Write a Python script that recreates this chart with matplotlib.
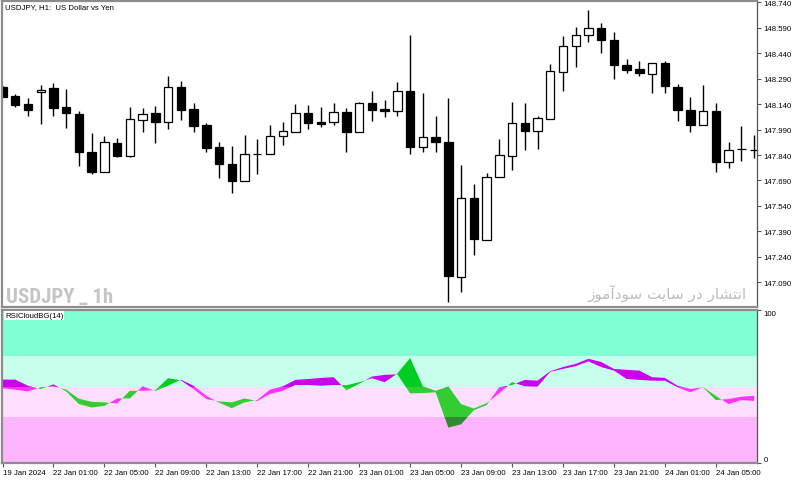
import numpy as np
import matplotlib
matplotlib.use("Agg")
import matplotlib.pyplot as plt
from matplotlib import font_manager
from matplotlib.patches import Rectangle

# USDJPY H1 candles
opens = [148.241, 148.186, 148.139, 148.211, 148.233, 148.125, 148.082, 147.856, 147.742, 147.913,
         147.836, 148.048, 148.086, 148.033, 148.243, 148.111, 148.017, 147.886, 147.785, 147.687,
         147.846, 147.846, 147.950, 147.977, 148.088, 148.033, 148.033, 148.092, 147.977, 148.145,
         148.109, 148.098, 148.219, 147.889, 147.948, 147.915, 147.119, 147.585, 147.341, 147.709,
         147.836, 148.027, 147.982, 148.052, 148.331, 148.481, 148.547, 148.589, 148.520, 148.372,
         148.345, 148.316, 148.381, 148.243, 148.105, 148.015, 148.101, 147.797, 147.874, 147.868]
highs = [148.245, 148.200, 148.174, 148.253, 148.263, 148.229, 148.101, 147.970, 147.950, 147.939,
         148.121, 148.115, 148.131, 148.304, 148.274, 148.147, 148.029, 147.915, 147.895, 147.956,
         147.934, 148.017, 148.033, 148.141, 148.135, 148.121, 148.147, 148.115, 148.150, 148.219,
         148.164, 148.272, 148.549, 148.205, 148.068, 148.174, 147.783, 147.669, 147.734, 147.934,
         148.154, 148.145, 148.072, 148.376, 148.543, 148.593, 148.695, 148.618, 148.563, 148.406,
         148.394, 148.381, 148.396, 148.259, 148.180, 148.253, 148.145, 147.918, 148.013, 147.958]
lows = [148.180, 148.123, 148.072, 148.023, 148.072, 147.999, 147.774, 147.728, 147.742, 147.830,
        147.827, 147.974, 147.909, 147.993, 148.048, 147.977, 147.856, 147.705, 147.614, 147.687,
        147.728, 147.846, 147.901, 147.977, 147.993, 148.003, 148.019, 147.860, 147.974, 148.042,
        148.062, 148.072, 147.846, 147.856, 147.856, 146.976, 147.031, 147.251, 147.341, 147.709,
        147.754, 147.871, 147.876, 148.052, 148.219, 148.357, 148.504, 148.439, 148.288, 148.323,
        148.307, 148.204, 148.204, 148.039, 147.974, 148.015, 147.742, 147.762, 147.807, 147.822]
closes = [148.184, 148.137, 148.107, 148.223, 148.117, 148.086, 147.856, 147.742, 147.915, 147.834,
          148.051, 148.082, 148.033, 148.241, 148.107, 148.013, 147.880, 147.785, 147.687, 147.846,
          147.846, 147.950, 147.980, 148.088, 148.029, 148.025, 148.092, 147.974, 148.147, 148.107,
          148.099, 148.219, 147.889, 147.946, 147.918, 147.125, 147.585, 147.345, 147.712, 147.840,
          148.027, 147.982, 148.056, 148.333, 148.481, 148.547, 148.589, 148.518, 148.372, 148.343,
          148.322, 148.381, 148.247, 148.105, 148.015, 148.101, 147.797, 147.871, 147.874, 147.868]

# RSI cloud edges (green where line1 > line2, magenta otherwise)
rsi_line1 = [48.8, 47.9, 46.8, 49.5, 50.1, 48.0, 42.0, 40.0, 39.6, 38.9,
             47.2, 47.2, 47.6, 55.4, 54.0, 48.3, 41.8, 40.3, 39.6, 42.2,
             40.5, 45.1, 47.2, 51.0, 51.0, 50.5, 51.0, 50.8, 52.8, 55.4,
             52.8, 58.5, 68.6, 50.1, 47.2, 50.1, 38.5, 35.6, 39.1, 45.5,
             52.8, 50.1, 49.9, 59.6, 61.5, 63.3, 66.4, 62.7, 60.4, 54.9,
             54.3, 53.8, 53.8, 49.5, 46.2, 49.6, 43.9, 38.5, 41.1, 40.6]
rsi_line2 = [54.5, 54.5, 50.5, 48.3, 51.4, 46.8, 38.5, 36.3, 37.3, 42.2,
             42.2, 50.1, 47.0, 50.5, 54.5, 50.5, 43.9, 39.5, 35.8, 39.6,
             41.2, 47.9, 50.1, 54.3, 54.9, 55.6, 56.1, 47.5, 51.8, 56.5,
             57.6, 58.0, 45.5, 45.7, 46.2, 23.1, 25.3, 34.5, 37.8, 49.5,
             51.0, 54.3, 53.8, 60.0, 62.7, 64.8, 68.1, 66.0, 61.5, 60.9,
             60.4, 56.1, 55.6, 50.5, 48.4, 49.4, 41.1, 41.8, 43.3, 43.9]

time_labels = ['19 Jan 2024', '22 Jan 01:00', '22 Jan 05:00', '22 Jan 09:00', '22 Jan 13:00',
               '22 Jan 17:00', '22 Jan 21:00', '23 Jan 01:00', '23 Jan 05:00', '23 Jan 09:00',
               '23 Jan 13:00', '23 Jan 17:00', '23 Jan 21:00', '24 Jan 01:00', '24 Jan 05:00']

o = np.array(opens); h = np.array(highs); l = np.array(lows); c = np.array(closes)
r1 = np.array(rsi_line1); r2 = np.array(rsi_line2)
x = np.arange(len(o))

plt.rcParams['font.family'] = ['Liberation Sans', 'DejaVu Sans']
installed = {f.name for f in font_manager.fontManager.ttflist}
wm_font = next((n for n in ['Liberation Sans Narrow', 'Roboto Condensed', 'Open Sans Condensed']
                if n in installed), 'Liberation Sans')

fig = plt.figure(figsize=(8, 4.81), dpi=100)
W, H = 800, 481
ax = fig.add_axes([2 / W, 1 - 308 / H, 755.5 / W, 306 / H])
ax2 = fig.add_axes([2 / W, 1 - 464 / H, 755.5 / W, 153 / H], sharex=ax)

# candles
ax.vlines(x, l, h, color='black', lw=1, zorder=1)
up = c > o
ax.bar(x[up], (c - o)[up], bottom=o[up], width=0.66, facecolor='white',
       edgecolor='black', lw=0.9, zorder=2)
ax.bar(x[~up], (c - o)[~up], bottom=o[~up], width=0.66, facecolor='black',
       edgecolor='black', lw=0.9, zorder=2)

ax.set_xlim(-0.04, 59.27)
ax.set_ylim(146.944, 148.748)
price_ticks = np.round(np.arange(147.09, 148.741, 0.15), 3)
ax.yaxis.tick_right()
ax.set_yticks(price_ticks)
ax.set_yticklabels([f'{p:.3f}' for p in price_ticks])
ax.tick_params(axis='y', direction='out', length=3, width=0.8, labelsize=5.6, pad=1.5, color='#555555')
ax.tick_params(axis='x', bottom=False, labelbottom=False)

ax.text(0.004, 0.993, 'USDJPY, H1:  US Dollar vs Yen', transform=ax.transAxes,
        fontsize=5.6, va='top', ha='left')
ax.text(0.0053, 0.016, 'USDJPY _ 1h', transform=ax.transAxes, fontsize=15,
        fontweight='bold', color='#C4C4C4', family=wm_font, va='baseline', ha='left')
# "انتشار در سایت سودآموز" written with presentation forms in visual order
fa_text = ('\uFEAF\uFEEE\uFEE3\uFE81\uFEA9\uFEEE\uFEB3 \uFE96\uFEF3\uFE8E\uFEB3 '
           '\uFEAD\uFEA9 \uFEAD\uFE8E\uFEB8\uFE98\uFEE7\uFE8D')
ax.text(0.986, 0.029, fa_text, transform=ax.transAxes, fontsize=11, color='#BDBDBD',
        family=['DejaVu Sans'], va='baseline', ha='right')

# RSI panel
bands = [(70, 100, '#80FFD4'), (50, 70, '#C8FFEC'), (30, 50, '#FFDEFF'), (0, 30, '#FFB4FF')]
for lo, hi, col in bands:
    ax2.axhspan(lo, hi, color=col, lw=0, zorder=0)

zone_cols = [(70, 100, '#00CC22', '#CC00EE'), (50, 70, '#00CC22', '#CC00EE'),
             (30, 50, '#33CC33', '#FF33FF'), (0, 30, '#338833', '#FF33FF')]
for lo, hi, gcol, mcol in zone_cols:
    clip = Rectangle((-1, lo), 62, hi - lo, transform=ax2.transData)
    g = ax2.fill_between(x, r1, r2, where=r1 >= r2, interpolate=True, color=gcol, lw=0, zorder=2)
    m = ax2.fill_between(x, r1, r2, where=r1 <= r2, interpolate=True, color=mcol, lw=0, zorder=2)
    g.set_clip_path(clip)
    m.set_clip_path(clip)

ax2.set_ylim(0, 100)
ax2.yaxis.tick_right()
ax2.set_yticks([0, 100])
ax2.set_yticklabels(['0', '100'])
ax2.tick_params(axis='y', direction='out', length=3, width=0.8, labelsize=5.6, pad=1.5, color='#555555')
yl = ax2.get_yticklabels()
yl[0].set_va('bottom')
yl[1].set_va('top')

ax2.set_xticks(np.arange(0, 60, 4))
ax2.set_xticklabels(time_labels)
ax2.tick_params(axis='x', direction='out', length=3, width=0.8, labelsize=5.6, pad=1.5, color='#555555')
for t in ax2.get_xticklabels():
    t.set_ha('left')

ax2.text(0.004, 0.985, 'RSICloudBG(14)', transform=ax2.transAxes, fontsize=5.6, va='top', ha='left',
         bbox=dict(facecolor='white', edgecolor='none', pad=0.8), zorder=5)

for a in (ax, ax2):
    for side in ('top', 'left', 'bottom'):
        a.spines[side].set_color('#8C8C8C')
        a.spines[side].set_linewidth(1.6)
    a.spines['right'].set_color('#555555')
    a.spines['right'].set_linewidth(0.9)

fig.savefig('out.png', dpi=100)
